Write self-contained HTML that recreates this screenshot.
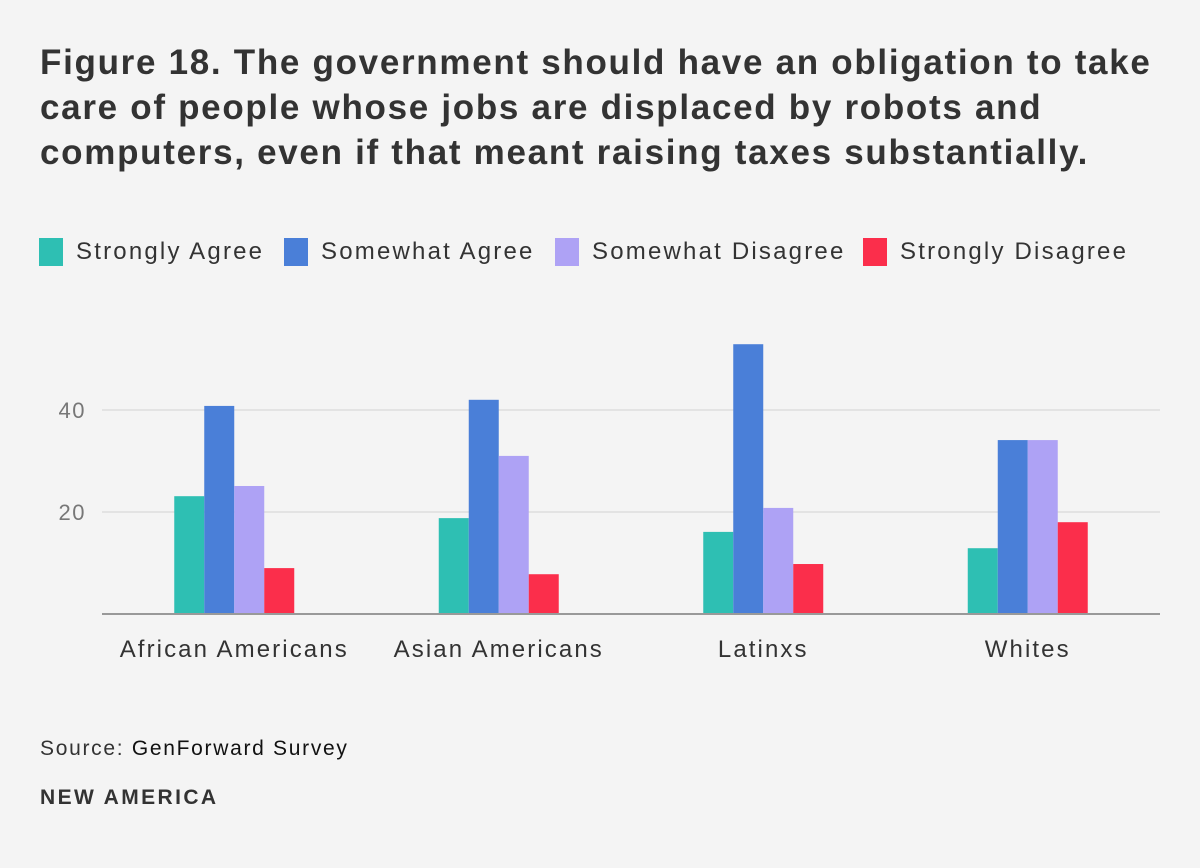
<!DOCTYPE html>
<html><head><meta charset="utf-8"><style>
body{margin:0;width:1200px;height:868px;background:#f4f4f4;font-family:"Liberation Sans",sans-serif;color:#333;overflow:hidden;position:relative}
#title{position:absolute;left:40px;top:40px;font-size:35px;font-weight:bold;line-height:45px;color:#333;letter-spacing:1.7px;white-space:nowrap}
.leg{position:absolute;top:238px;font-size:24px;display:flex;align-items:center;letter-spacing:2.2px;white-space:nowrap}
.sw{width:24px;height:28px;margin-right:13px}
#src{position:absolute;left:40px;top:737px;font-size:21px;letter-spacing:1.7px}
#brand{position:absolute;left:40px;top:786px;font-size:21px;font-weight:bold;letter-spacing:2.4px}
</style></head><body>
<div id="title">Figure 18. The government should have an obligation to take<br>care of people whose jobs are displaced by robots and<br>computers, even if that meant raising taxes substantially.</div>
<div class="leg" style="left:39px"><div class="sw" style="background:#2ebfb3"></div>Strongly Agree</div>
<div class="leg" style="left:284px"><div class="sw" style="background:#4a7fd8"></div>Somewhat Agree</div>
<div class="leg" style="left:555px"><div class="sw" style="background:#aea2f5"></div>Somewhat Disagree</div>
<div class="leg" style="left:863px"><div class="sw" style="background:#fb2e4b"></div>Strongly Disagree</div>
<svg id="chart" width="1200" height="868" style="position:absolute;left:0;top:0"></svg>
<div id="src">Source: <span style="color:#111">GenForward Survey</span></div>
<div id="brand">NEW AMERICA</div>
<script>
const categories=["African Americans","Asian Americans","Latinxs","Whites"];
const strongAgree=[23.1,18.8,16.1,12.9];
const someAgree=[40.8,42,52.9,34.1];
const someDisagree=[25.1,31,20.8,34.1];
const strongDisagree=[9,7.8,9.8,18];
const ticks=[20,40];
const series=[strongAgree,someAgree,someDisagree,strongDisagree];
const seriesNames=["strongly-agree","somewhat-agree","somewhat-disagree","strongly-disagree"];
const colors=["#2ebfb3","#4a7fd8","#aea2f5","#fb2e4b"];
const svg=document.getElementById('chart'),NS="http://www.w3.org/2000/svg";
const x0=102,x1=1160,y0=614,k=5.1;
const y=v=>y0-v*k;
const band=(x1-x0)/categories.length;
const cx=i=>x0+band*(i+0.5);
function mk(t,a){const e=document.createElementNS(NS,t);for(const n in a)e.setAttribute(n,a[n]);svg.appendChild(e);return e;}
ticks.forEach(t=>{
 const g=mk('line',{x1:x0,x2:x1,y1:y(t),y2:y(t),stroke:'#ddd','stroke-width':1.5});
 
 
 const l=mk('text',{x:86,y:y(t)+8,'text-anchor':'end','font-size':22,fill:'#777','font-family':'Liberation Sans','letter-spacing':1.5});
 l.textContent=t;
 
 
});
categories.forEach((c,i)=>{
 series.forEach((s,j)=>{
  const r=mk('rect',{x:cx(i)-60+30*j,y:y(s[i]),width:30,height:s[i]*k,fill:colors[j]});
  
  
 });
 const t=mk('text',{x:cx(i),y:657,'text-anchor':'middle','font-size':24,fill:'#333','font-family':'Liberation Sans','letter-spacing':2.1});
 t.textContent=c;
 
 
});
const ax=mk('line',{x1:x0,x2:x1,y1:y0,y2:y0,stroke:'#999','stroke-width':2});


</script>
</body></html>
